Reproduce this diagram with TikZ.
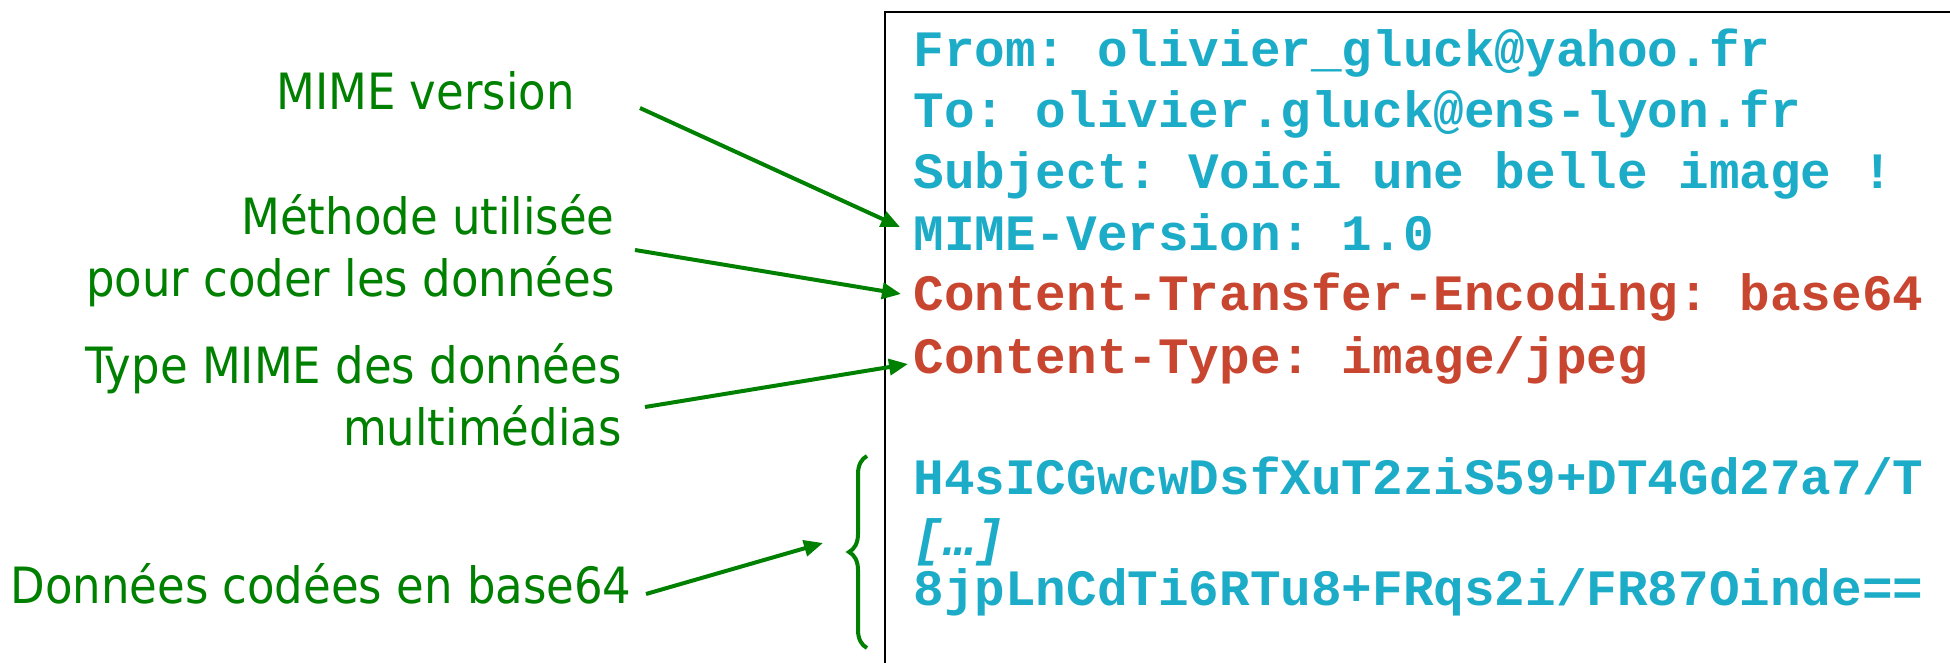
\documentclass[tikz,border=0pt]{standalone}
\usepackage{fontspec}
\setmainfont{DejaVu Sans Condensed}
\newfontfamily\monof{Liberation Mono}
\usetikzlibrary{arrows.meta,decorations.pathreplacing}
\definecolor{mcyan}{RGB}{28,172,200}
\definecolor{mred}{RGB}{200,70,48}
\definecolor{mgreen}{RGB}{0,128,0}
\frenchspacing
\begin{document}
\begin{tikzpicture}[x=0.5pt,y=-0.5pt,
  lbl/.style={anchor=base east,inner sep=0,text=mgreen,font=\fontsize{25pt}{30pt}\selectfont},
  code/.style={anchor=base west,inner sep=0,font=\monof\bfseries\fontsize{25.5pt}{30pt}\selectfont\frenchspacing},
  hdr/.style={code,text=mcyan},
  mhdr/.style={code,text=mred},
  arr/.style={draw=mgreen,line width=2pt,-{Triangle[length=9.5pt,width=8pt]}},
  boxline/.style={draw=black,line width=1.3pt},
  bracestyle/.style={draw=mgreen,line width=2pt,decorate,decoration={brace,amplitude=9pt}}
]
\path[use as bounding box] (0,0) rectangle (1950,663);
\clip (0,0) rectangle (1950,663);

% message box (extends beyond the picture on the right and bottom)
\coordinate (boxbl) at (885,700);
\coordinate (boxtl) at (885,12);
\coordinate (boxtr) at (2000,12);
\draw[boxline] (boxbl) -- (boxtl) -- (boxtr);

% message text
\node[hdr]  (tfrom) at (913,67)  {From: olivier\_gluck@yahoo.fr};
\node[hdr]  (tto)   at (913,128) {To: olivier.gluck@ens-lyon.fr};
\node[hdr]  (tsubj) at (913,189) {Subject: Voici une belle image !};
\node[hdr]  (tmime) at (913,251) {MIME-Version: 1.0};
\node[mhdr] (tcte)  at (913,311) {Content-Transfer-Encoding: base64};
\node[mhdr] (tct)   at (913,373) {Content-Type: image/jpeg};
\node[hdr]  (td1)   at (913,494) {H4sICGwcwDsfXuT2ziS59+DT4Gd27a7/T};
\node[hdr,font=\monof\bfseries\itshape\fontsize{25.5pt}{30pt}\selectfont] (tdots) at (913,555) {[…]};
\node[hdr]  (td2)   at (913,605) {8jpLnCdTi6RTu8+FRqs2i/FR87Oinde==};

% labels
\node[lbl] (lmime)  at (575,110) {MIME version};
\node[lbl] (lmeth1) at (615,235) {Méthode utilisée};
\node[lbl] (lmeth2) at (615,297) {pour coder les données};
\node[lbl] (ltype1) at (622,384) {Type MIME des données};
\node[lbl] (ltype2) at (622,445) {multimédias};
\node[lbl] (ldata)  at (632,603) {Données codées en base64};

% brace around the base64 data
\coordinate (btop) at (867,456);
\coordinate (bbot) at (867,648);
\coordinate (bmid) at (849,552);
\draw[bracestyle] (bbot) -- (btop);

% arrows
\draw[arr] ([shift={(65,-2)}]lmime.base east) -- ([shift={(-13,-24)}]tmime.base west);
\draw[arr] ([shift={(20,15)}]lmeth1.base east) -- ([shift={(-12,-17)}]tcte.base west);
\draw[arr] ([shift={(23,23)}]ltype1.base east) -- ([shift={(-5,-9)}]tct.base west);
\draw[arr] ([shift={(14,-9)}]ldata.base east) -- ([shift={(-26,-9)}]bmid);
\end{tikzpicture}
\end{document}
